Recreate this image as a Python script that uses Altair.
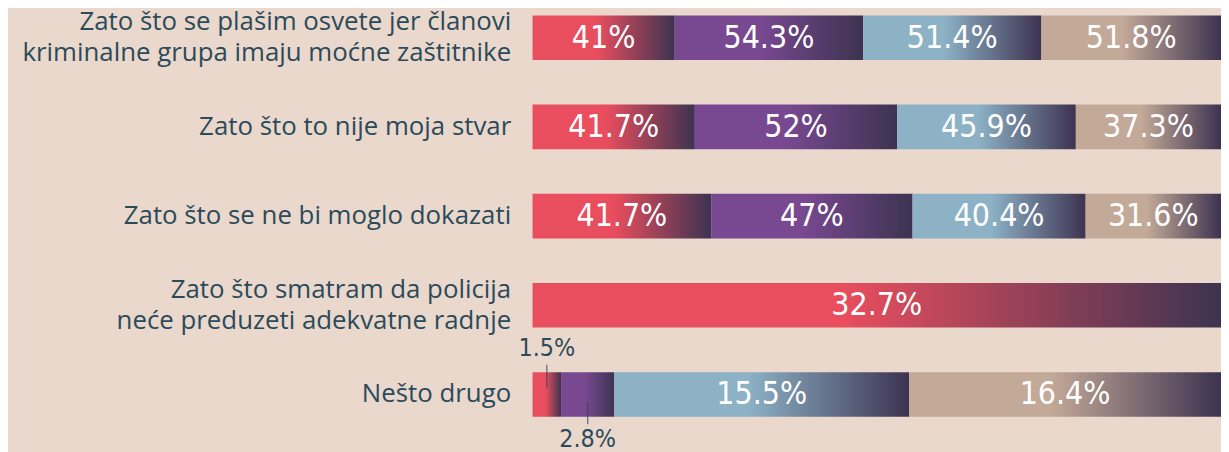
import altair as alt
import pandas as pd

questions = [
    "Zato što se plašim osvete jer članovi|kriminalne grupa imaju moćne zaštitnike",
    "Zato što to nije moja stvar",
    "Zato što se ne bi moglo dokazati",
    "Zato što smatram da policija|neće preduzeti adekvatne radnje",
    "Nešto drugo",
]
series = ["Serija 1", "Serija 2", "Serija 3", "Serija 4"]
s1 = [41, 41.7, 41.7, 32.7, 1.5]
s2 = [54.3, 52, 47, None, 2.8]
s3 = [51.4, 45.9, 40.4, None, 15.5]
s4 = [51.8, 37.3, 31.6, None, 16.4]
colors = ["#e94e5e", "#784991", "#8db2c6", "#c3a997"]
dark = "#3d3351"
text_color = "#2b4a5a"
bg = "#ead8cc"

rows = []
for si, (name, vals) in enumerate(zip(series, [s1, s2, s3, s4])):
    for q, v in zip(questions, vals):
        if v is not None:
            rows.append({"question": q, "series": name, "value": v, "order": si})
df = pd.DataFrame(rows)

base = alt.Chart(df).transform_stack(
    stack="value", groupby=["question"], as_=["x0", "x1"],
    offset="normalize", sort=[alt.SortField("order")]
).transform_calculate(
    mid="(datum.x0 + datum.x1) / 2",
    label="datum.value + '%'"
)

Y = alt.Y(
    "question:N", sort=questions, title=None,
    scale=alt.Scale(paddingInner=0.5, paddingOuter=0),
    axis=alt.Axis(
        labelExpr="split(datum.label, '|')", labelFont="Open Sans", labelFontSize=26,
        labelColor=text_color, labelPadding=22, ticks=False, domain=False,
        labelLimit=0, labelLineHeight=31, labelAlign="right", grid=False,
        labelOffset={"expr": "indexof(datum.value, '|') >= 0 ? -15.5 : 0"},
    ),
)
XS = alt.Scale(domain=[0, 1], nice=False)

layers = []
for name, c in zip(series, colors):
    grad = alt.Gradient(
        gradient="linear",
        stops=[alt.GradientStop(color=c, offset=0),
               alt.GradientStop(color=c, offset=0.45),
               alt.GradientStop(color=dark, offset=1)],
        x1=0, x2=1, y1=0, y2=0,
    )
    layers.append(
        base.transform_filter(alt.datum.series == name)
        .mark_bar(color=grad)
        .encode(x=alt.X("x0:Q", scale=XS, axis=None), x2="x1:Q", y=Y)
    )

num_font = "Liberation Sans Narrow, DejaVu Sans Condensed, Roboto"
inside = base.transform_filter("datum.value >= 5").mark_text(
    color="white", fontSize=32, font=num_font, align="center", baseline="middle"
).encode(x=alt.X("mid:Q", scale=XS, axis=None), y=Y, text="label:N")

small_above = base.transform_filter(f"datum.value < 5 && datum.series == '{series[0]}'")
small_below = base.transform_filter(f"datum.value < 5 && datum.series == '{series[1]}'")

tick_above = small_above.mark_tick(color=text_color, thickness=1.3, size=23, yOffset=-18.5).encode(
    x=alt.X("mid:Q", scale=XS, axis=None), y=Y)
tick_below = small_below.mark_tick(color=text_color, thickness=1.3, size=23, yOffset=18.5).encode(
    x=alt.X("mid:Q", scale=XS, axis=None), y=Y)
text_above = small_above.mark_text(color=text_color, fontSize=25, font=num_font,
                                   align="center", baseline="middle", yOffset=-47).encode(
    x=alt.X("mid:Q", scale=XS, axis=None), y=Y, text="label:N")
text_below = small_below.mark_text(color=text_color, fontSize=25, font=num_font,
                                   align="center", baseline="middle", yOffset=45).encode(
    x=alt.X("mid:Q", scale=XS, axis=None), y=Y, text="label:N")

chart = alt.layer(*layers, inside, tick_above, tick_below, text_above, text_below).properties(
    width=693, height=404, autosize="none",
    padding={"left": 528, "top": 6, "right": 0, "bottom": 36},
    background=bg,
).configure_view(stroke=None)

chart.save("out.html", embed_options={"renderer": "svg", "actions": False})
